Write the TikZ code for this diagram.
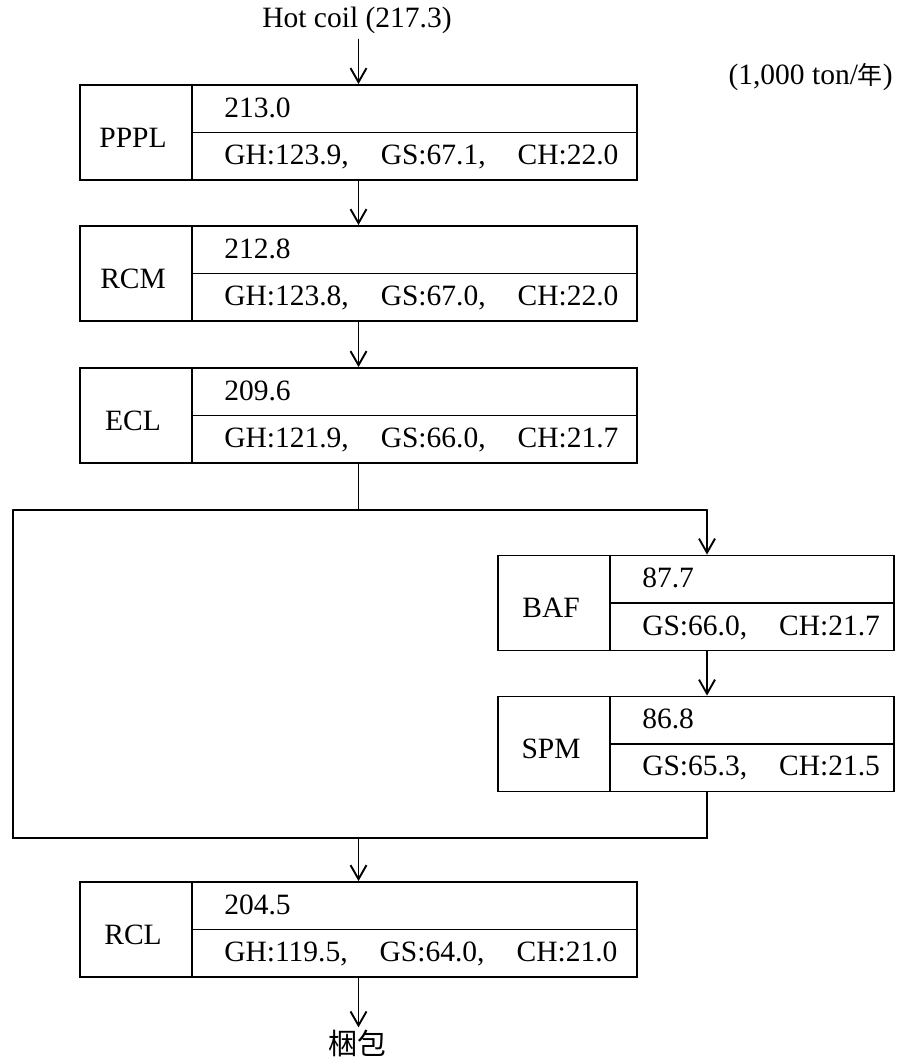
\documentclass[tikz,border=0pt]{standalone}
\usepackage{fontspec}
\setmainfont{Liberation Serif}
\newfontfamily\cjk{Noto Sans CJK JP}
\usetikzlibrary{arrows.meta}
\tikzset{
  ln/.style={line width=1.9pt, line cap=round, line join=miter},
  inl/.style={line width=1.9pt, line cap=butt},
  arr/.style={ln, -{Straight Barb[length=14pt,width=16pt,line width=1.9pt]}},
  boxfr/.style={draw, ln, rectangle, minimum height=95pt, inner sep=0pt},
  txt/.style={inner sep=0pt, font=\fontsize{29.5}{33}\selectfont},
}
\newcommand\mystage[7]{%
  \node[boxfr, minimum width=#4] (#1) at (#2,#3) {};
  \coordinate (#1-d) at ([xshift=113pt]#1.north west);
  \draw[inl] (#1-d) -- (#1-d |- #1.south);
  \draw[inl] (#1-d |- #1.center) -- (#1.east);
  \node[txt] (#1-l) at ([xshift=54pt,yshift=-5pt]#1.west) {#5};
  \node[txt, anchor=west] (#1-v) at ([xshift=32pt,yshift=-23.5pt]#1-d) {#6};
  \node[txt, anchor=west] (#1-g) at ([xshift=32pt,yshift=24pt]#1-d |- #1.south) {#7};
}
\newcommand\gap{\hspace{32pt}}
\begin{document}
\begin{tikzpicture}[x=1pt,y=1pt]
\useasboundingbox (0,0) rectangle (897,-1061);
\node[txt, anchor=east] (unit) at (893,-77) {(1,000 ton/{\cjk\fontsize{25}{30}\selectfont 年})};
\node[txt] (hot) at (357,-20) {Hot coil (217.3)};
\mystage{pppl}{358.5}{-132.5}{557}{PPPL}{213.0}{GH:123.9,\gap GS:67.1,\gap CH:22.0}
\mystage{rcm}{358.5}{-273.5}{557}{RCM}{212.8}{GH:123.8,\gap GS:67.0,\gap CH:22.0}
\mystage{ecl}{358.5}{-415.5}{557}{ECL}{209.6}{GH:121.9,\gap GS:66.0,\gap CH:21.7}
\mystage{baf}{696}{-603}{396}{BAF}{87.7}{GS:66.0,\gap CH:21.7}
\mystage{spm}{696}{-744}{396}{SPM}{86.8}{GS:65.3,\gap CH:21.5}
\mystage{rcl}{358.5}{-929.5}{557}{RCL}{204.5}{GH:119.5,\gap GS:64.0,\gap CH:21.0}
\node[txt, font=\cjk\fontsize{29}{33}\selectfont] (pack) at (357,-1043) {梱包};
\coordinate (jl) at (13,-510);
\coordinate (jr) at (707,-510);
\coordinate (ml) at (13,-838);
\coordinate (mr) at (707,-838);
\draw[arr] ([yshift=-6pt]hot.south -| pppl.north) -- (pppl.north);
\draw[arr] (pppl.south) -- (rcm.north);
\draw[arr] (rcm.south) -- (ecl.north);
\draw[ln] (ecl.south) -- (ecl.south |- jl);
\draw[ln] (jl) -- (jr);
\draw[arr] (jr) -- (jr |- baf.north);
\draw[arr] (jr |- baf.south) -- (jr |- spm.north);
\draw[ln] (jr |- spm.south) -- (mr) -- (ml) -- (jl);
\draw[arr] (ecl.south |- ml) -- (rcl.north);
\draw[arr] (rcl.south) -- ([yshift=2pt]pack.north -| rcl.south);
\end{tikzpicture}
\end{document}
